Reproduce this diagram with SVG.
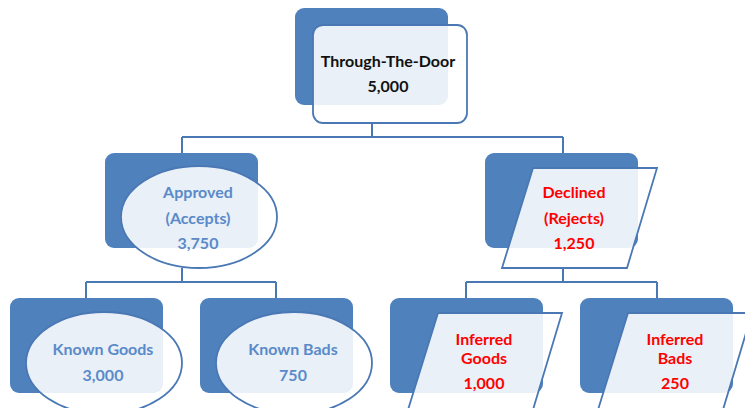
<svg xmlns="http://www.w3.org/2000/svg" width="745" height="408" viewBox="0 0 745 408">
<style>
.back{fill:#4F81BD;}
.front{fill:#FFFFFF;fill-opacity:0.88;stroke:#4A78B4;stroke-width:1.8;}
.conn{fill:none;stroke:#4A78B4;stroke-width:2;}
text{font-family:Lato,"Liberation Sans",sans-serif;font-weight:bold;font-size:16px;text-anchor:middle;}
.k{fill:#111111;}
.b{fill:#5A8ACA;}
.r{fill:#FF0000;}
</style>
<rect width="745" height="408" fill="#FFFFFF"/>
<g id="connectors">
<path class="conn" d="M372,123 V137 M182,137 H563 M182,137 V153 M563,137 V153"/>
<path class="conn" d="M182,268 V282 M86,282 H276 M86,282 V298 M276,282 V298"/>
<path class="conn" d="M563,268 V282 M466,282 H657 M466,282 V298 M657,282 V298"/>
</g>
<g id="through-the-door">
<rect class="back" x="295" y="8" width="153" height="97" rx="9"/>
<rect class="front" x="313" y="25" width="154" height="98" rx="10"/>
<text class="k" x="388" y="67">Through-The-Door</text>
<text class="k" x="388" y="92">5,000</text>
</g>
<g id="approved">
<rect class="back" x="105" y="153" width="153" height="95" rx="9"/>
<ellipse class="front" cx="199" cy="217" rx="78" ry="51"/>
<text class="b" x="198" y="198">Approved</text>
<text class="b" x="198" y="224">(Accepts)</text>
<text class="b" x="198" y="249">3,750</text>
</g>
<g id="declined">
<rect class="back" x="485" y="153" width="153" height="95" rx="9"/>
<polygon class="front" points="533,168 657,168 627,268 502,268"/>
<text class="r" x="574" y="198">Declined</text>
<text class="r" x="574" y="224">(Rejects)</text>
<text class="r" x="574" y="249">1,250</text>
</g>
<g id="known-goods">
<rect class="back" x="10" y="298" width="153" height="95" rx="9"/>
<ellipse class="front" cx="104" cy="363" rx="78" ry="51"/>
<text class="b" x="103" y="355">Known Goods</text>
<text class="b" x="103" y="381">3,000</text>
</g>
<g id="known-bads">
<rect class="back" x="200" y="298" width="153" height="95" rx="9"/>
<ellipse class="front" cx="294" cy="363" rx="78" ry="51"/>
<text class="b" x="293" y="355">Known Bads</text>
<text class="b" x="293" y="381">750</text>
</g>
<g id="inferred-goods">
<rect class="back" x="390" y="298" width="153" height="95" rx="9"/>
<polygon class="front" points="438,313 562,313 532,413 407,413"/>
<text class="r" x="484" y="345">Inferred</text>
<text class="r" x="484" y="364">Goods</text>
<text class="r" x="484" y="389">1,000</text>
</g>
<g id="inferred-bads">
<rect class="back" x="580" y="298" width="153" height="95" rx="9"/>
<polygon class="front" points="628,313 752,313 722,413 597,413"/>
<text class="r" x="675" y="345">Inferred</text>
<text class="r" x="675" y="364">Bads</text>
<text class="r" x="675" y="389">250</text>
</g>
</svg>
